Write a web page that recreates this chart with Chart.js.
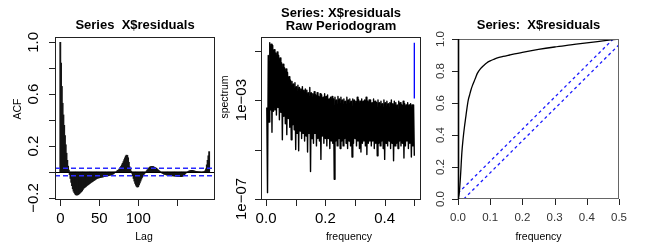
<!DOCTYPE html>
<html><head><meta charset="utf-8">
<script src="https://cdn.jsdelivr.net/npm/chart.js@4.4.0/dist/chart.umd.min.js"></script>
<style>
html,body{margin:0;padding:0;background:#fff;}
#wrap{position:relative;width:649px;height:251px;overflow:hidden;}
canvas{position:absolute;left:0;top:0;}
</style></head><body>
<div id="wrap">
<canvas id="c1" width="649" height="251"></canvas>
<canvas id="c2" width="649" height="251"></canvas>
<canvas id="c3" width="649" height="251"></canvas>
</div>
<script>
// ---------- Panel 1: ACF ----------
const acfValues = [
 1.0, 0.84, 0.66, 0.53, 0.44, 0.36, 0.28, 0.21, 0.145, 0.09,
 0.045, 0.015, -0.02, -0.05, -0.08, -0.105, -0.13, -0.148, -0.16, -0.17,
 -0.176, -0.178, -0.177, -0.174, -0.17, -0.164, -0.158, -0.152, -0.145, -0.135,
 -0.126, -0.121, -0.116, -0.111, -0.106, -0.101, -0.097, -0.092, -0.088, -0.083,
 -0.079, -0.075, -0.071, -0.067, -0.063, -0.058, -0.054, -0.05, -0.048, -0.046,
 -0.045, -0.043, -0.042, -0.04, -0.039, -0.038, -0.036, -0.035, -0.034, -0.032,
 -0.031, -0.03, -0.028, -0.026, -0.024, -0.022, -0.02, -0.018, -0.015, -0.01,
 -0.005, -0.002, 0.004, 0.009, 0.013, 0.018, 0.025, 0.034, 0.044, 0.055,
 0.067, 0.08, 0.095, 0.11, 0.123, 0.13, 0.128, 0.11, 0.075, 0.04,
 0.02, 0.005, -0.01, -0.03, -0.05, -0.07, -0.088, -0.102, -0.112, -0.117,
 -0.113, -0.1, -0.085, -0.07, -0.055, -0.042, -0.03, -0.02, -0.012, -0.005,
 0.002, 0.01, 0.018, 0.026, 0.033, 0.038, 0.041, 0.042, 0.042, 0.041,
 0.039, 0.036, 0.033, 0.029, 0.024, 0.019, 0.013, 0.008, 0.003, -0.002,
 -0.006, -0.01, -0.013, -0.016, -0.018, -0.02, -0.022, -0.024, -0.025, -0.026,
 -0.027, -0.028, -0.028, -0.029, -0.03, -0.03, -0.031, -0.031, -0.032, -0.033,
 -0.034, -0.035, -0.035, -0.036, -0.036, -0.036, -0.035, -0.032, -0.027, -0.021,
 -0.015, -0.009, -0.004, 0.0, 0.004, 0.007, 0.009, 0.011, 0.012, 0.012,
 0.011, 0.01, 0.008, 0.006, 0.005, 0.004, 0.003, 0.002, 0.002, 0.001,
 0.001, 0.0, 0.0, 0.001, 0.002, 0.004, 0.01, 0.025, 0.055, 0.09,
 0.125, 0.157
];
const acfLags = acfValues.map((_, i) => i);
const acfCI = 0.029;
const acfYTicks = [-0.2, 0, 0.2, 0.4, 0.6, 0.8, 1.0];
const acfYLabels = ['\u22120.2', '', '0.2', '', '0.6', '', '1.0'];
const acfXTicks = [0, 50, 100, 150];
const acfXLabels = ['0', '50', '100', ''];

// ---------- Panel 2: raw periodogram ----------
const specValues = [
 5.0e-4, 1.8e-7, 6.3e-2, 1.3e-4, 2.1e-1, 4.0e-4, 1.8e-1, 5.0e-5, 1.6e-1, 3.5e-4,
 1.1e-1, 4.0e-4, 7.9e-2, 2.5e-4, 8.9e-2, 5.0e-4, 6.3e-2, 1.6e-4, 5.0e-2, 3.2e-4,
 3.2e-2, 2.5e-5, 2.8e-2, 2.2e-4, 2.0e-2, 1.1e-4, 1.8e-2, 4.0e-5, 1.3e-2, 1.8e-4,
 8.9e-3, 8.0e-5, 6.3e-3, 2.5e-5, 5.6e-3, 1.0e-4, 4.5e-3, 6.3e-5, 5.0e-3, 1.0e-5,
 3.5e-3, 4.5e-5, 4.0e-3, 8.9e-6, 3.2e-3, 5.6e-5, 2.8e-3, 2.8e-5, 3.5e-3, 4.5e-5,
 2.5e-3, 2.2e-5, 2.8e-3, 3.5e-5, 2.5e-3, 7.9e-6, 2.0e-3, 4.5e-5, 3.2e-3, 1.3e-6,
 2.0e-3, 2.8e-5, 1.8e-3, 1.8e-5, 2.2e-3, 4.5e-5, 1.6e-3, 1.4e-5, 2.0e-3, 2.8e-5,
 1.4e-3, 2.2e-5, 1.8e-3, 4.0e-6, 1.6e-3, 3.5e-5, 1.3e-3, 1.8e-5, 1.8e-3, 2.8e-5,
 1.4e-3, 1.4e-5, 1.6e-3, 2.8e-5, 1.1e-3, 1.1e-5, 1.3e-3, 2.2e-5, 1.4e-3, 1.8e-5,
 1.1e-3, 6.3e-7, 1.3e-3, 2.2e-5, 1.0e-3, 1.4e-5, 1.4e-3, 2.8e-5, 1.1e-3, 1.1e-5,
 1.3e-3, 2.2e-5, 1.0e-3, 1.4e-5, 1.1e-3, 2.8e-5, 8.9e-4, 1.8e-5, 1.3e-3, 1.1e-5,
 1.0e-3, 2.2e-5, 1.1e-3, 1.4e-5, 8.9e-4, 5.0e-6, 1.1e-3, 1.8e-5, 1.0e-3, 2.8e-5,
 8.9e-4, 1.4e-5, 1.3e-3, 2.2e-5, 1.0e-3, 1.1e-5, 8.9e-4, 7.9e-6, 1.1e-3, 1.8e-5,
 8.9e-4, 2.2e-5, 1.0e-3, 1.4e-5, 1.3e-3, 6.3e-6, 8.9e-4, 1.8e-5, 1.0e-3, 2.2e-5,
 1.0e-3, 1.4e-5, 7.9e-4, 2.2e-5, 1.1e-3, 1.1e-5, 8.9e-4, 1.8e-5, 7.9e-4, 5.6e-6,
 1.0e-3, 1.8e-5, 7.9e-4, 1.4e-5, 8.9e-4, 2.2e-5, 7.1e-4, 1.1e-5, 1.0e-3, 4.0e-6,
 7.9e-4, 1.8e-5, 8.9e-4, 1.4e-5, 7.1e-4, 2.2e-5, 7.9e-4, 1.1e-5, 1.0e-3, 1.8e-5,
 7.1e-4, 3.5e-6, 8.9e-4, 1.4e-5, 7.9e-4, 1.8e-5, 6.3e-4, 1.1e-5, 8.9e-4, 2.2e-5,
 7.9e-4, 1.4e-5, 6.3e-4, 1.8e-5, 8.9e-4, 4.5e-6, 7.1e-4, 1.4e-5, 6.3e-4, 2.2e-5,
 7.9e-4, 1.1e-5, 6.3e-4, 1.8e-5, 7.1e-4, 5.0e-6, 6.3e-4, 1.4e-5, 6.3e-4, 5.6e-6
];
const specFreq = specValues.map((_, i) => (i + 1) / 400);
const specCIFreq = [0.5, 0.5];
const specCIBar = [0.21, 1.15e-3];
const specXTicks = [0, 0.1, 0.2, 0.3, 0.4, 0.5];
const specXLabels = ['0.0', '', '0.2', '', '0.4', ''];
const specYTicks = [1e-7, 1e-5, 1e-3, 1e-1];
const specYLabels = ['1e\u221207', '', '1e\u221203', ''];

// ---------- Panel 3: cumulative periodogram ----------
const cpFreq = [0, 0.004, 0.008, 0.012, 0.016, 0.02, 0.024, 0.028, 0.032, 0.036,
  0.04, 0.045, 0.05, 0.055, 0.06, 0.07, 0.08, 0.09, 0.1, 0.11,
  0.12, 0.14, 0.16, 0.2, 0.25, 0.3, 0.35, 0.4, 0.45, 0.5];
const cpValues = [0, 0.04, 0.15, 0.29, 0.38, 0.45, 0.51, 0.57, 0.62, 0.65,
  0.68, 0.71, 0.735, 0.76, 0.785, 0.815, 0.835, 0.852, 0.863, 0.872,
  0.88, 0.891, 0.9, 0.917, 0.935, 0.95, 0.963, 0.976, 0.988, 1.0];
const cpUpperFreq = [0, 0.482];
const cpUpperVal = [0.036, 1.0];
const cpLowerFreq = [0.018, 0.5];
const cpLowerVal = [0, 0.964];
const cpXTicks = [0, 0.1, 0.2, 0.3, 0.4, 0.5];
const cpXLabels = ['0.0', '0.1', '0.2', '0.3', '0.4', '0.5'];
const cpYTicks = [0, 0.2, 0.4, 0.6, 0.8, 1.0];
const cpYLabels = ['0.0', '0.2', '0.4', '0.6', '0.8', '1.0'];

const FONT = '"Liberation Sans", Arial, Helvetica, sans-serif';
const W = 649, H = 251;

function text(ctx, s, x, y, font, color, rot) {
  ctx.save();
  ctx.font = font; ctx.fillStyle = color || '#000';
  ctx.textAlign = 'center'; ctx.textBaseline = 'middle';
  ctx.translate(x, y);
  if (rot) ctx.rotate(rot);
  ctx.fillText(s, 0, 0);
  ctx.restore();
}

function frame(o) {
  return {
    id: 'frame' + o.id,
    afterDatasetsDraw(chart) {
      if (o.refLines) o.refLines(chart);
    },
    afterDraw(chart) {
      const ctx = chart.ctx, a = chart.chartArea, xs = chart.scales.x, ys = chart.scales.y;
      ctx.save();
      ctx.strokeStyle = o.boxColor || '#222';
      ctx.lineWidth = 1;
      ctx.strokeRect(a.left + 0.5, a.top + 0.5, a.right - a.left - 1, a.bottom - a.top - 1);
      if (o.leftEdge) {
        ctx.strokeStyle = '#000'; ctx.lineWidth = 1.6;
        ctx.beginPath(); ctx.moveTo(a.left + 0.5, a.top); ctx.lineTo(a.left + 0.5, a.bottom); ctx.stroke();
      }
      ctx.strokeStyle = '#222'; ctx.lineWidth = 1;
      ctx.beginPath();
      o.yTicks.forEach(v => {
        const py = Math.round(ys.getPixelForValue(v)) + 0.5;
        ctx.moveTo(a.left - o.tickLen, py); ctx.lineTo(a.left, py);
      });
      o.xTicks.forEach(v => {
        const px = Math.round(xs.getPixelForValue(v)) + 0.5;
        ctx.moveTo(px, a.bottom); ctx.lineTo(px, a.bottom + o.tickLen);
      });
      ctx.stroke();
      o.yTicks.forEach((v, i) => {
        if (o.yLabels[i]) text(ctx, o.yLabels[i], a.left - o.yLabOff, ys.getPixelForValue(v), o.tickFont, o.tickColor, -Math.PI / 2);
      });
      o.xTicks.forEach((v, i) => {
        if (o.xLabels[i]) text(ctx, o.xLabels[i], xs.getPixelForValue(v), a.bottom + o.xLabOff, o.tickFont, o.tickColor);
      });
      o.titles.forEach(t => text(ctx, t[0], t[1], t[2], 'bold 13px ' + FONT, '#000'));
      text(ctx, o.xTitle[0], o.xTitle[1], o.xTitle[2], o.labFont, '#000');
      if (o.yTitle) text(ctx, o.yTitle[0], o.yTitle[1], o.yTitle[2], o.labFont, '#000', -Math.PI / 2);
      ctx.restore();
    }
  };
}

function baseOptions(box) {
  return {
    responsive: false, animation: false, events: [],
    layout: { padding: { left: box[0], top: box[1], right: W - box[2], bottom: H - box[3] } },
    plugins: { legend: { display: false }, tooltip: { enabled: false }, title: { display: false } },
    elements: { point: { radius: 0 } }
  };
}

// Panel 1
const box1 = [55, 37, 215, 200];
const opt1 = baseOptions(box1);
opt1.scales = {
  x: { type: 'linear', display: false, min: -6.8, max: 198.5, offset: false },
  y: { type: 'linear', display: false, min: -0.216, max: 1.041 }
};
new Chart(document.getElementById('c1'), {
  type: 'bar',
  data: { datasets: [{
    data: acfLags.map((l, i) => ({ x: l, y: acfValues[i] })),
    backgroundColor: '#141414', borderWidth: 0, barThickness: 1.2
  }] },
  options: opt1,
  plugins: [frame({
    id: 1, tickLen: 6, yTicks: acfYTicks, yLabels: acfYLabels, xTicks: acfXTicks, xLabels: acfXLabels,
    yLabOff: 21, xLabOff: 19, tickFont: '15px ' + FONT, tickColor: '#000', labFont: '10.5px ' + FONT,
    titles: [['Series  X$residuals', 135, 25]],
    xTitle: ['Lag', 144, 237], yTitle: ['ACF', 18.5, 109],
    refLines(chart) {
      const ctx = chart.ctx, a = chart.chartArea, ys = chart.scales.y;
      ctx.save();
      ctx.strokeStyle = '#000'; ctx.lineWidth = 1;
      const y0 = Math.round(ys.getPixelForValue(0)) + 0.5;
      ctx.beginPath(); ctx.moveTo(a.left, y0); ctx.lineTo(a.right, y0); ctx.stroke();
      ctx.strokeStyle = '#2a2aff'; ctx.lineWidth = 1.5; ctx.setLineDash([5, 3]);
      [acfCI, -acfCI].forEach(c => {
        const py = ys.getPixelForValue(c);
        ctx.beginPath(); ctx.moveTo(a.left, py); ctx.lineTo(a.right, py); ctx.stroke();
      });
      ctx.restore();
    }
  })]
});

// Panel 2
const box2 = [261, 37, 421, 200];
const opt2 = baseOptions(box2);
opt2.scales = {
  x: { type: 'linear', display: false, min: -0.017, max: 0.5225 },
  y: { type: 'logarithmic', display: false, min: 9.1e-8, max: 0.355 }
};
new Chart(document.getElementById('c2'), {
  type: 'line',
  data: { datasets: [
    { data: specFreq.map((f, i) => ({ x: f, y: specValues[i] })), borderColor: '#000', borderWidth: 1.4, borderJoinStyle: 'round', pointRadius: 0, tension: 0 },
    { data: specCIFreq.map((f, i) => ({ x: f, y: specCIBar[i] })), borderColor: '#0000ff', borderWidth: 1.3, pointRadius: 0 }
  ] },
  options: opt2,
  plugins: [frame({
    id: 2, tickLen: 6, yTicks: specYTicks, yLabels: specYLabels, xTicks: specXTicks, xLabels: specXLabels,
    yLabOff: 19.5, xLabOff: 19, tickFont: '15px ' + FONT, tickColor: '#000', labFont: '10.5px ' + FONT,
    titles: [['Series: X$residuals', 341, 13.5], ['Raw Periodogram', 341, 26]],
    xTitle: ['frequency', 349, 237], yTitle: ['spectrum', 225, 97]
  })]
});

// Panel 3
const box3 = [458, 39, 619, 199];
const opt3 = baseOptions(box3);
opt3.scales = {
  x: { type: 'linear', display: false, min: 0, max: 0.5 },
  y: { type: 'linear', display: false, min: 0, max: 1 }
};
new Chart(document.getElementById('c3'), {
  type: 'line',
  data: { datasets: [
    { data: cpFreq.map((f, i) => ({ x: f, y: cpValues[i] })), borderColor: '#000', borderWidth: 1.3, pointRadius: 0, cubicInterpolationMode: 'monotone' },
    { data: cpUpperFreq.map((f, i) => ({ x: f, y: cpUpperVal[i] })), borderColor: '#1a1aff', borderWidth: 1.3, borderDash: [3, 3], pointRadius: 0 },
    { data: cpLowerFreq.map((f, i) => ({ x: f, y: cpLowerVal[i] })), borderColor: '#1a1aff', borderWidth: 1.3, borderDash: [3, 3], pointRadius: 0 }
  ] },
  options: opt3,
  plugins: [frame({
    id: 3, tickLen: 6, yTicks: cpYTicks, yLabels: cpYLabels, xTicks: cpXTicks, xLabels: cpXLabels,
    yLabOff: 17, xLabOff: 19, tickFont: '11.5px ' + FONT, tickColor: '#333', labFont: '10.5px ' + FONT,
    boxColor: '#666', leftEdge: true,
    titles: [['Series:  X$residuals', 538.5, 25]],
    xTitle: ['frequency', 538.5, 237]
  })]
});
</script>
</body></html>
